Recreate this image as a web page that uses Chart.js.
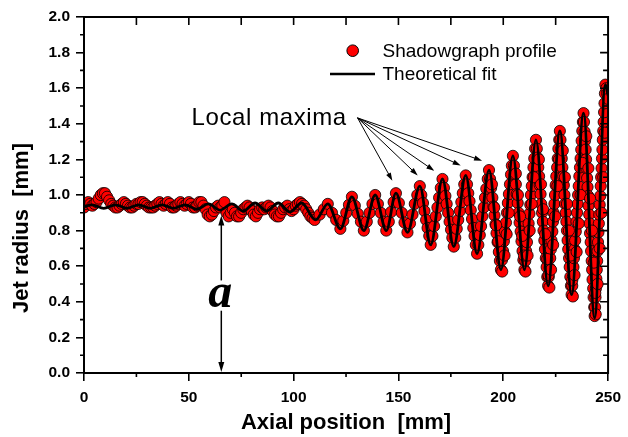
<!DOCTYPE html>
<html>
<head>
<meta charset="utf-8">
<script src="https://cdn.jsdelivr.net/npm/chart.js"></script>
<style>
  html, body { margin: 0; padding: 0; background: #fff; }
  #jetChart { display: block; }
</style>
</head>
<body>
<canvas id="jetChart" width="628" height="437"></canvas>
<script>
// Jet radius along the axis: shadowgraph profile with the theoretical fit

// shadowgraph profile, one reading per mm from 0 to 110 mm
const flatRadius = [
  0.93, 0.95, 0.96, 0.95, 0.94, 0.95, 0.96, 0.98, 1.00, 1.01,
  1.01, 0.99, 0.97, 0.95, 0.94, 0.93, 0.93, 0.94, 0.95, 0.96,
  0.95, 0.94, 0.93, 0.93, 0.94, 0.95, 0.95, 0.96, 0.96, 0.95,
  0.94, 0.93, 0.93, 0.93, 0.94, 0.95, 0.96, 0.95, 0.94, 0.95,
  0.96, 0.95, 0.93, 0.93, 0.94, 0.95, 0.96, 0.95, 0.94, 0.95,
  0.96, 0.95, 0.93, 0.93, 0.94, 0.96, 0.96, 0.94, 0.92, 0.89,
  0.88, 0.89, 0.91, 0.93, 0.94, 0.93, 0.94, 0.96, 0.90, 0.88,
  0.90, 0.92, 0.90, 0.88, 0.88, 0.90, 0.92, 0.93, 0.94, 0.93,
  0.91, 0.89, 0.88, 0.90, 0.92, 0.93, 0.92, 0.93, 0.94, 0.93,
  0.91, 0.89, 0.88, 0.88, 0.90, 0.92, 0.93, 0.94, 0.92, 0.91,
  0.92, 0.94, 0.95, 0.96, 0.95, 0.94, 0.92, 0.90, 0.88, 0.87,
  0.86
];

// shadowgraph profile along the growing wave [x mm, radius mm], one flank per line
const waveProfile = [
  [112.4,0.89],[114.4,0.92],[116.3,0.95],
  [118.3,0.90],[120.3,0.86],[122.3,0.81],
  [123.7,0.855],[125.1,0.90],[126.4,0.945],[127.8,0.99],
  [129.2,0.94],[130.6,0.895],[132.1,0.85],[133.5,0.80],
  [134.9,0.85],[136.2,0.90],[137.6,0.95],[138.9,1.00],
  [140.2,0.95],[141.6,0.90],[142.9,0.85],[144.2,0.80],
  [145.4,0.85],[146.5,0.905],[147.7,0.96],[148.8,1.01],
  [150.2,0.955],[151.6,0.90],[152.9,0.845],[154.3,0.79],
  [155.5,0.84],[156.7,0.89],[157.8,0.95],[159.0,1.00],[160.2,1.05],
  [160.9,1.00],[161.7,0.955],[162.4,0.91],[163.2,0.86],[163.9,0.815],[164.7,0.77],[165.4,0.72],
  [166.2,0.77],[167.0,0.825],[167.8,0.88],[168.6,0.93],[169.4,0.985],[170.2,1.04],[171.0,1.09],
  [171.7,1.04],[172.4,0.995],[173.0,0.95],[173.7,0.90],[174.4,0.85],[175.1,0.805],[175.7,0.76],[176.4,0.71],
  [177.1,0.76],[177.8,0.81],[178.5,0.86],[179.3,0.91],[180.0,0.96],[180.7,1.01],[181.4,1.06],[182.1,1.11],
  [182.7,1.06],[183.3,1.01],[183.9,0.965],[184.5,0.915],[185.1,0.865],[185.7,0.815],[186.3,0.77],[186.9,0.72],[187.5,0.67],
  [188.1,0.72],[188.8,0.775],[189.4,0.825],[190.0,0.88],[190.7,0.93],[191.3,0.985],[191.9,1.035],[192.6,1.09],[193.2,1.14],
  [193.7,1.09],[194.2,1.04],[194.8,0.985],[195.3,0.935],[195.8,0.885],[196.3,0.835],[196.8,0.785],[197.3,0.735],[197.9,0.68],[198.4,0.63],[198.9,0.58],
  [199.4,0.635],[199.9,0.685],[200.3,0.74],[200.8,0.795],[201.3,0.845],[201.8,0.90],[202.2,0.955],[202.7,1.005],[203.2,1.06],[203.7,1.115],[204.1,1.165],[204.6,1.22],
  [205.1,1.165],[205.5,1.115],[206.0,1.06],[206.4,1.005],[206.9,0.955],[207.3,0.90],[207.8,0.845],[208.3,0.795],[208.7,0.74],[209.2,0.685],[209.6,0.635],[210.1,0.58],
  [210.5,0.63],[210.9,0.685],[211.3,0.735],[211.7,0.79],[212.1,0.84],[212.5,0.895],[212.9,0.945],[213.2,1.00],[213.6,1.05],[214.0,1.10],[214.4,1.155],[214.8,1.205],[215.2,1.26],[215.6,1.31],
  [216.0,1.26],[216.3,1.21],[216.7,1.155],[217.1,1.105],[217.4,1.055],[217.8,1.005],[218.1,0.95],[218.5,0.90],[218.9,0.85],[219.2,0.80],[219.6,0.745],[219.9,0.695],[220.3,0.645],[220.7,0.595],[221.0,0.54],[221.4,0.49],
  [221.7,0.54],[222.1,0.59],[222.4,0.645],[222.7,0.695],[223.0,0.745],[223.4,0.795],[223.7,0.85],[224.0,0.90],[224.4,0.95],[224.7,1.00],[225.0,1.055],[225.3,1.105],[225.7,1.155],[226.0,1.205],[226.3,1.26],[226.7,1.31],[227.0,1.36],
  [227.3,1.31],[227.6,1.26],[227.9,1.205],[228.2,1.155],[228.6,1.105],[228.9,1.055],[229.2,1.00],[229.5,0.95],[229.8,0.90],[230.1,0.85],[230.4,0.80],[230.7,0.745],[231.0,0.695],[231.4,0.645],[231.7,0.595],[232.0,0.54],[232.3,0.49],[232.6,0.44],
  [232.9,0.49],[233.2,0.54],[233.5,0.595],[233.7,0.645],[234.0,0.695],[234.3,0.745],[234.6,0.795],[234.9,0.85],[235.2,0.90],[235.5,0.95],[235.7,1.00],[236.0,1.05],[236.3,1.105],[236.6,1.155],[236.9,1.205],[237.2,1.255],[237.4,1.305],[237.7,1.36],[238.0,1.41],[238.3,1.46],
  [238.5,1.41],[238.8,1.355],[239.0,1.305],[239.3,1.255],[239.5,1.20],[239.7,1.15],[240.0,1.095],[240.2,1.045],[240.5,0.995],[240.7,0.94],[241.0,0.89],[241.2,0.84],[241.4,0.785],[241.7,0.735],[241.9,0.685],[242.2,0.63],[242.4,0.58],[242.6,0.525],[242.9,0.475],[243.1,0.425],[243.4,0.37],[243.6,0.32],
  [243.8,0.37],[244.0,0.425],[244.2,0.475],[244.4,0.53],[244.6,0.58],[244.8,0.63],[245.0,0.685],[245.2,0.735],[245.4,0.79],[245.6,0.84],[245.8,0.89],[246.0,0.945],[246.3,0.995],[246.5,1.05],[246.7,1.10],[246.9,1.15],[247.1,1.205],[247.3,1.255],[247.5,1.31],[247.7,1.36],[247.9,1.41],[248.1,1.465],[248.3,1.515],[248.5,1.57],[248.7,1.62],
  [249.2,1.60],[249.6,1.57],[250.0,1.54]
];

// profile readings lying off the fit (right of the flanks, in the trough clusters)
const offFitProfile = [
  [194.6,1.06],[195.7,0.93],[196.6,0.83],[197.6,0.74],[199.5,0.57],
  [200.6,0.66],[201.6,0.78],[202.6,0.90],
  [206.0,1.12],[207.0,1.00],[208.0,0.88],[209.0,0.77],[209.9,0.66],[210.6,0.57],
  [211.6,0.66],[212.6,0.80],[213.6,0.95],[214.6,1.10],
  [217.0,1.20],[218.0,1.06],[219.0,0.92],[220.0,0.78],[221.0,0.64],[221.6,0.55],[222.0,0.48],
  [222.8,0.58],[223.8,0.72],[224.8,0.88],[225.8,1.05],[226.6,1.20],
  [228.4,1.25],[229.4,1.10],[230.4,0.95],[231.3,0.80],[232.2,0.66],[232.9,0.52],[233.2,0.43],
  [234.0,0.55],[235.0,0.68],[236.0,0.84],[236.9,1.00],[237.8,1.18],
  [239.6,1.33],[240.6,1.15],[241.4,0.98],[242.3,0.80],[243.2,0.62],[243.9,0.45],[244.1,0.33],
  [245.0,0.50],[246.0,0.70],[246.9,0.90],[247.7,1.10],[248.4,1.35]
];

// theoretical fit, read at its turning points
const fitX = [0, 3.9, 9.4, 15.0, 20.5, 26.1, 31.6, 37.2, 42.7, 48.3,
  53.8, 59.4, 64.9, 70.5, 76.0, 81.6, 87.1, 92.7, 98.2, 103.8,
  110.5, 116.3, 122.3, 127.8, 133.5, 138.9, 144.2, 148.8, 154.3, 160.2,
  165.4, 171.0, 176.4, 182.1, 187.5, 193.2, 198.9, 204.6, 210.1, 215.6,
  221.4, 227.0, 232.6, 238.3, 243.6, 248.7, 250];
const fitY = [0.935, 0.945, 0.925, 0.945, 0.925, 0.945, 0.925, 0.945, 0.925, 0.945,
  0.92, 0.95, 0.915, 0.95, 0.91, 0.955, 0.91, 0.955, 0.905, 0.955,
  0.86, 0.95, 0.81, 0.99, 0.80, 1.00, 0.80, 1.01, 0.79, 1.05,
  0.72, 1.09, 0.71, 1.11, 0.67, 1.14, 0.58, 1.22, 0.58, 1.31,
  0.49, 1.36, 0.44, 1.46, 0.31, 1.62, 1.56];

const seriesNames = ['Shadowgraph profile', 'Theoretical fit'];
const xRange = [0, 250], xStep = 50;
const yRange = [0, 2.0], yStep = 0.2;

const profilePoints = flatRadius.map((r, i) => ({ x: i, y: r }))
  .concat(waveProfile.map(p => ({ x: p[0], y: p[1] })))
  .concat(offFitProfile.map(p => ({ x: p[0], y: p[1] })));
const fitPoints = fitX.map((x, i) => ({ x: x, y: fitY[i] }));

const FONT = "'Liberation Sans', Arial, sans-serif";
Chart.defaults.font.family = FONT;
Chart.defaults.color = '#000';

function arrow(ctx, x0, y0, x1, y1, len, half) {
  const ang = Math.atan2(y1 - y0, x1 - x0);
  const c = Math.cos(ang), s = Math.sin(ang);
  ctx.beginPath();
  ctx.moveTo(x0, y0);
  ctx.lineTo(x1 - c * len * 0.7, y1 - s * len * 0.7);
  ctx.stroke();
  ctx.beginPath();
  ctx.moveTo(x1, y1);
  ctx.lineTo(x1 - len * c + half * s, y1 - len * s - half * c);
  ctx.lineTo(x1 - len * c - half * s, y1 - len * s + half * c);
  ctx.closePath();
  ctx.fill();
}

// frame, minor ticks, legend, titles and annotations
const decorations = {
  id: 'decorations',
  afterDraw(chart) {
    const { ctx, chartArea: a, scales: { x, y } } = chart;
    ctx.save();
    ctx.strokeStyle = '#000';
    ctx.fillStyle = '#000';

    ctx.lineWidth = 1.6;
    ctx.beginPath();
    for (let v = 25; v < 250; v += 50) {
      const px = x.getPixelForValue(v);
      ctx.moveTo(px, a.bottom); ctx.lineTo(px, a.bottom + 4);
    }
    for (let i = 1; i < 20; i += 2) {
      const py = y.getPixelForValue(i / 10);
      ctx.moveTo(a.left, py); ctx.lineTo(a.left - 4, py);
    }
    for (let v = 25; v < 250; v += 25) {
      const px = x.getPixelForValue(v);
      ctx.moveTo(px, a.top); ctx.lineTo(px, a.top + 8);
    }
    for (let i = 1; i < 20; i++) {
      const py = y.getPixelForValue(i / 10);
      const len = i % 2 ? 5 : 8;
      ctx.moveTo(a.right, py); ctx.lineTo(a.right - len, py);
    }
    ctx.stroke();
    ctx.lineWidth = 2;
    ctx.strokeRect(a.left, a.top, a.right - a.left, a.bottom - a.top);

    // axis titles
    ctx.font = 'bold 22px ' + FONT;
    ctx.textAlign = 'center';
    ctx.textBaseline = 'alphabetic';
    ctx.fillText('Axial position  [mm]', (a.left + a.right) / 2, 429);
    ctx.save();
    ctx.translate(27.5, 228);
    ctx.rotate(-Math.PI / 2);
    ctx.fillText('Jet radius  [mm]', 0, 0);
    ctx.restore();

    // legend
    ctx.textAlign = 'left';
    ctx.font = '19px ' + FONT;
    ctx.fillStyle = '#ff0000';
    ctx.lineWidth = 1;
    ctx.beginPath();
    ctx.arc(352.7, 50.7, 5.8, 0, Math.PI * 2);
    ctx.fill(); ctx.stroke();
    ctx.fillStyle = '#000';
    ctx.fillText(seriesNames[0], 382.5, 56.7);
    ctx.lineWidth = 2.5;
    ctx.beginPath();
    ctx.moveTo(330, 74); ctx.lineTo(375, 74);
    ctx.stroke();
    ctx.fillText(seriesNames[1], 382.5, 79.5);

    // local maxima label and arrows
    ctx.font = '24px ' + FONT;
    if ('letterSpacing' in ctx) ctx.letterSpacing = '0.6px';
    ctx.fillText('Local maxima', 191.5, 124.5);
    if ('letterSpacing' in ctx) ctx.letterSpacing = '0px';
    ctx.lineWidth = 1;
    const ox = x.getPixelForValue(130.5), oy = y.getPixelForValue(1.433);
    [[147.1, 1.08], [159.2, 1.11], [167.1, 1.136], [179.7, 1.166], [189.9, 1.193]].forEach(t => {
      arrow(ctx, ox, oy, x.getPixelForValue(t[0]), y.getPixelForValue(t[1]), 8, 2.6);
    });

    // unperturbed radius a
    const ax = x.getPixelForValue(65.5);
    ctx.lineWidth = 1.5;
    arrow(ctx, ax, y.getPixelForValue(0.52), ax, y.getPixelForValue(0.885), 10, 3);
    arrow(ctx, ax, y.getPixelForValue(0.35), ax, y.getPixelForValue(0.005), 10, 3);
    ctx.font = "bold italic 48px 'Liberation Serif', 'Times New Roman', serif";
    ctx.textAlign = 'center';
    ctx.fillText('a', ax - 1, 307);

    ctx.restore();
  }
};

const ctx = document.getElementById('jetChart').getContext('2d');
const jetChart = new Chart(ctx, {
  type: 'scatter',
  data: {
    datasets: [{
      label: seriesNames[0],
      data: profilePoints,
      backgroundColor: '#ff0000',
      borderColor: '#000',
      borderWidth: 0.8,
      pointRadius: 5.6,
      clip: 0,
      order: 2
    }, {
      type: 'line',
      label: seriesNames[1],
      data: fitPoints,
      borderColor: '#000',
      borderWidth: 2.8,
      pointRadius: 0,
      fill: false,
      cubicInterpolationMode: 'monotone',
      clip: 0,
      order: 1
    }]
  },
  options: {
    responsive: false,
    animation: false,
    events: [],
    layout: { padding: { top: 17, right: 15, left: 0, bottom: 0 } },
    plugins: { legend: { display: false }, tooltip: { enabled: false } },
    scales: {
      x: {
        type: 'linear',
        min: xRange[0], max: xRange[1],
        ticks: { stepSize: xStep, padding: 7, font: { size: 15.5, weight: 'bold' }, color: '#000' },
        grid: { drawOnChartArea: false, drawTicks: true, tickLength: 8, color: '#000', lineWidth: 1.6 },
        border: { display: true, color: '#000', width: 2 },
        afterFit: s => { s.height = 64; }
      },
      y: {
        min: yRange[0], max: yRange[1],
        ticks: { stepSize: yStep, padding: 6, font: { size: 15.5, weight: 'bold' }, color: '#000',
          callback: v => v.toFixed(1) },
        grid: { drawOnChartArea: false, drawTicks: true, tickLength: 8, color: '#000', lineWidth: 1.6 },
        border: { display: true, color: '#000', width: 2 },
        afterFit: s => { s.width = 84; }
      }
    }
  },
  plugins: [decorations]
});
</script>
</body>
</html>
